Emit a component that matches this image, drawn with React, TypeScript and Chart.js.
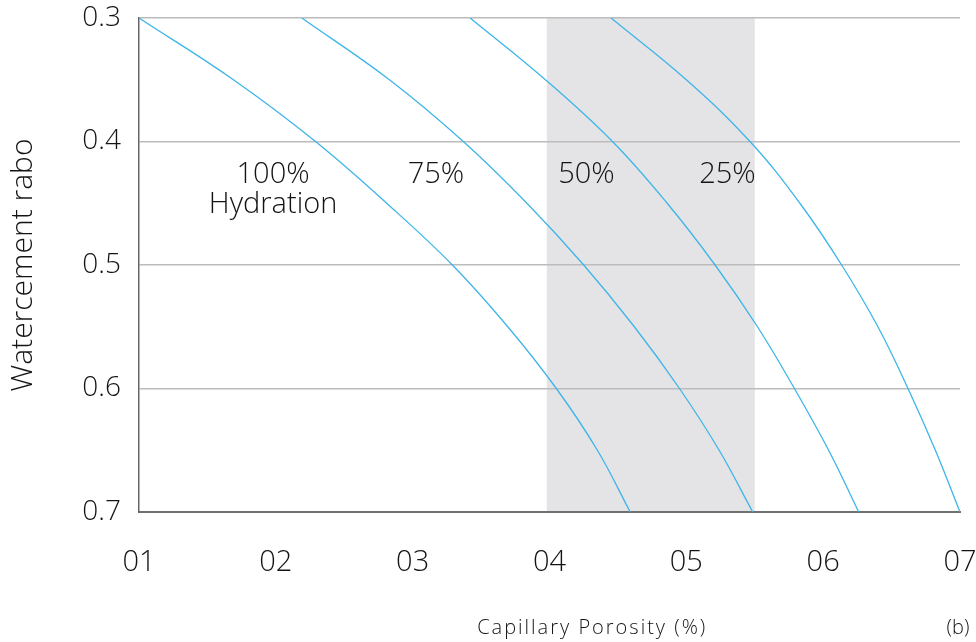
import React, { useEffect, useRef } from "react";
import { Chart, registerables } from "chart.js";

Chart.register(...registerables);

// ---- data ----
const wcRatios = [0.3, 0.35, 0.4, 0.45, 0.5, 0.55, 0.6, 0.65, 0.7];
const porosity100 = [10, 16.9, 22.9, 28.1, 32.9, 36.95, 40.5, 43.5, 45.9];
const porosity75 = [21.9, 28.3, 33.7, 38.35, 42.5, 46.2, 49.5, 52.4, 54.85];
const porosity50 = [34.2, 39.7, 44.6, 48.6, 52.1, 55.2, 57.9, 60.4, 62.6];
const porosity25 = [44.5, 50.0, 54.65, 58.3, 61.35, 64.0, 66.2, 68.2, 70.0];

const xTickLabels = ["01", "02", "03", "04", "05", "06", "07"];
const yTickLabels = ["0.3", "0.4", "0.5", "0.6", "0.7"];
const xMin = 10;
const xMax = 70;
const xStep = 10;
const yMin = 0.3;
const yMax = 0.7;
const yStep = 0.1;

const bandStart = 39.8;
const bandEnd = 55;

const curveNames = [["100%", "Hydration"], ["75%"], ["50%"], ["25%"]];
const curveNameX = [19.8, 31.7, 42.7, 53.0];
const curveNameY = 0.427;

const xTitle = "Capillary Porosity (%)";
const yTitle = "Watercement rabo";
const panelTag = "(b)";

// ---- style ----
const FONT = "'Open Sans', sans-serif";
const TEXT = "#141414";
const LINE = "#3db5e8";
const W = "300";

const toPoints = (xs: number[]) => wcRatios.map((w, i) => ({ x: xs[i], y: w }));

const bandPlugin = {
  id: "band",
  beforeDraw(chart: any) {
    const { ctx, chartArea, scales } = chart;
    const x0 = scales.x.getPixelForValue(bandStart);
    const x1 = scales.x.getPixelForValue(bandEnd);
    ctx.save();
    ctx.fillStyle = "#e4e4e7";
    ctx.fillRect(x0, chartArea.top, x1 - x0, chartArea.bottom - chartArea.top);
    ctx.restore();
  },
};

const textPlugin = {
  id: "texts",
  afterDraw(chart: any) {
    const { ctx, scales, chartArea } = chart;
    ctx.save();
    ctx.fillStyle = TEXT;
    ctx.textAlign = "center";
    ctx.textBaseline = "middle";
    ctx.font = `${W} 29px ${FONT}`;
    curveNames.forEach((lines, i) => {
      const cx = scales.x.getPixelForValue(curveNameX[i]);
      const cy = scales.y.getPixelForValue(curveNameY);
      lines.forEach((t, j) => ctx.fillText(t, cx, cy + j * 30));
    });
    ctx.font = `${W} 20px ${FONT}`;
    (ctx as any).letterSpacing = "2px";
    ctx.fillText(xTitle, chartArea.left + (chartArea.right - chartArea.left) * 0.552, 628);
    (ctx as any).letterSpacing = "0px";
    ctx.fillText(panelTag, chartArea.right - 2, 628);
    ctx.restore();
  },
};

export default function App() {
  const ref = useRef<HTMLCanvasElement>(null);
  useEffect(() => {
    document.body.style.margin = "0";
    const makeDs = (xs: number[]) => ({
      data: toPoints(xs),
      borderColor: LINE,
      borderWidth: 1.3,
      pointRadius: 0,
      fill: false,
      tension: 0.4,
    });
    const chart = new Chart(ref.current!, {
      type: "line",
      data: {
        datasets: [makeDs(porosity100), makeDs(porosity75), makeDs(porosity50), makeDs(porosity25)],
      },
      options: {
        animation: false,
        responsive: false,
        devicePixelRatio: 1,
        layout: { padding: { top: 18, right: 16, left: 0, bottom: 0 } },
        plugins: { legend: { display: false }, tooltip: { enabled: false } },
        scales: {
          x: {
            type: "linear",
            min: xMin,
            max: xMax,
            afterFit: (s: any) => {
              s.height = 130;
              s.paddingLeft = 0;
              s.paddingRight = 0;
            },
            ticks: {
              stepSize: xStep,
              padding: 33,
              color: TEXT,
              font: { family: FONT, size: 29, weight: W },
              callback: (v: any) => xTickLabels[Math.round((v - xMin) / xStep)],
              maxRotation: 0,
            },
            grid: { display: false, drawTicks: false },
            border: { display: true, color: "#707070", width: 2 },
          },
          y: {
            type: "linear",
            min: yMin,
            max: yMax,
            reverse: true,
            afterFit: (s: any) => {
              s.width = 139;
              s.paddingTop = 0;
              s.paddingBottom = 0;
            },
            ticks: {
              stepSize: yStep,
              padding: 18,
              color: TEXT,
              font: { family: FONT, size: 28, weight: W },
              callback: (v: any) => yTickLabels[Math.round((v - yMin) / yStep)],
            },
            grid: { color: "#bcbcbc", lineWidth: 1.5, drawTicks: false },
            border: { display: true, color: "#666666", width: 1.5 },
            title: {
              display: true,
              text: yTitle,
              color: TEXT,
              font: { family: FONT, size: 30, weight: W },
              padding: { top: 5, bottom: 0 },
            },
          },
        },
      },
      plugins: [bandPlugin, textPlugin],
    } as any);
    return () => chart.destroy();
  }, []);
  return (
    <div style={{ width: 976, height: 642 }}>
      <canvas ref={ref} width={976} height={642} style={{ display: "block" }} />
    </div>
  );
}
